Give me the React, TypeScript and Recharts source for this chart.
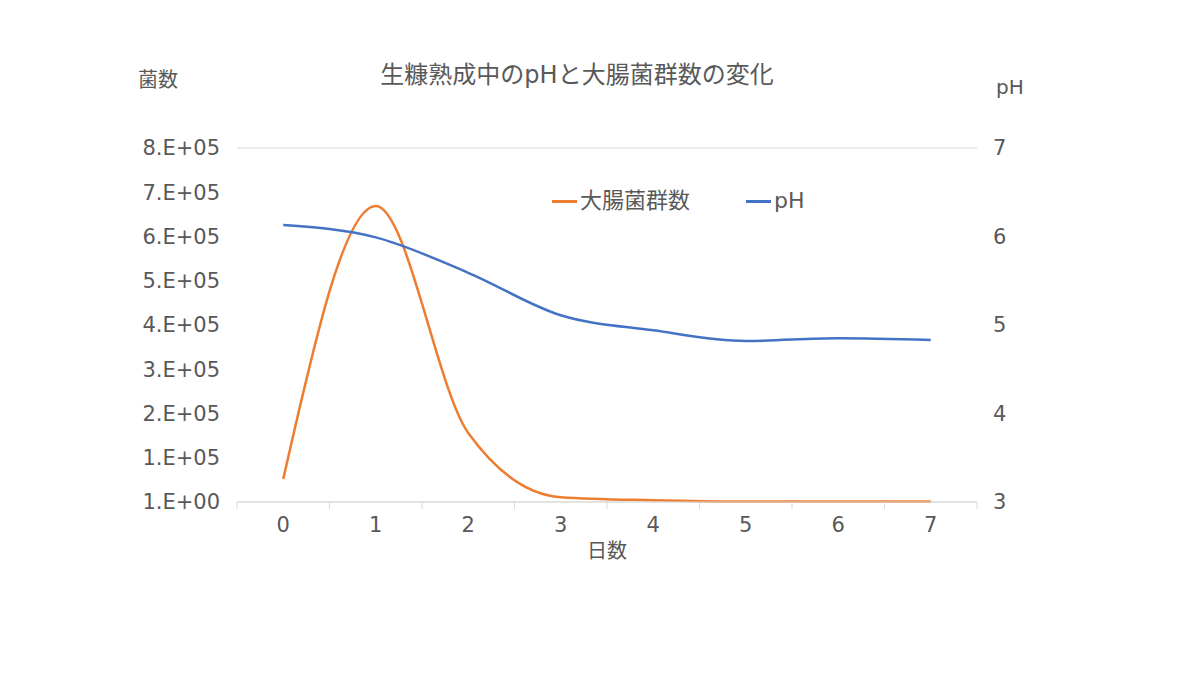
import React from "react";
import { ComposedChart, Line, XAxis, YAxis, CartesianGrid } from "recharts";

const days = ["0", "1", "2", "3", "4", "5", "6", "7"];
const coliform = [52000, 669000, 156000, 11000, 4000, 1000, 1000, 1000];
const ph = [6.13, 5.99, 5.59, 5.11, 4.94, 4.82, 4.85, 4.83];
const countTicks = [0, 100000, 200000, 300000, 400000, 500000, 600000, 700000, 800000];
const phTicks = [3, 4, 5, 6, 7];

const data = days.map((d, i) => ({ day: d, coliform: coliform[i], ph: ph[i] }));

const FONT = '"DejaVu Sans", "Noto Sans CJK JP", sans-serif';
const TEXT = "#595959";
const GRID = "#d9d9d9";

const fmtCount = (v: number) => (v === 0 ? "1.E+00" : `${v / 100000}.E+05`);

// category label plus the short marks on the band edges, like Excel
function DayTick(props: any) {
  const { x, y, payload, index } = props;
  const half = payload.offset || 0;
  const last = index === days.length - 1;
  return (
    <g>
      <line x1={x - half} x2={x - half} y1={y - 8} y2={y - 1} stroke={GRID} />
      {last && <line x1={x + half} x2={x + half} y1={y - 8} y2={y - 1} stroke={GRID} />}
      <text x={x} y={y + 22} textAnchor="middle" fill={TEXT} fontSize={21} fontFamily={FONT}>
        {payload.value}
      </text>
    </g>
  );
}

const legendItems = [
  { name: "大腸菌群数", color: "#ED7D31" },
  { name: "pH", color: "#4472C4" },
];

const label = (extra: React.CSSProperties): React.CSSProperties => ({
  position: "absolute",
  fontFamily: FONT,
  color: TEXT,
  whiteSpace: "nowrap",
  lineHeight: 1,
  ...extra,
});

export default function App() {
  return (
    <div style={{ position: "relative", width: 1184, height: 659, background: "#fff" }}>
      <ComposedChart
        width={1184}
        height={659}
        data={data}
        margin={{ top: 140, right: 155, bottom: 135, left: 139 }}
      >
        <CartesianGrid vertical={false} stroke={GRID} />
        <XAxis
          dataKey="day"
          scale="band"
          stroke={GRID}
          tickLine={false}
          tick={<DayTick />}
          height={30}
          interval={0}
        />
        <YAxis
          yAxisId="count"
          domain={[0, 800000]}
          ticks={countTicks}
          tickFormatter={fmtCount}
          axisLine={false}
          tickLine={false}
          tickSize={0}
          tickMargin={17}
          width={90}
          tick={{ fill: TEXT, fontSize: 21, fontFamily: FONT }}
        />
        <YAxis
          yAxisId="ph"
          orientation="right"
          domain={[3, 7]}
          ticks={phTicks}
          axisLine={false}
          tickLine={false}
          tickSize={0}
          tickMargin={16}
          width={60}
          tick={{ fill: TEXT, fontSize: 21, fontFamily: FONT }}
        />
        <Line
          yAxisId="count"
          type="monotone"
          dataKey="coliform"
          name="大腸菌群数"
          stroke="#ED7D31"
          strokeWidth={2.5}
          dot={false}
          isAnimationActive={false}
        />
        <Line
          yAxisId="ph"
          type="monotone"
          dataKey="ph"
          name="pH"
          stroke="#4472C4"
          strokeWidth={2.5}
          dot={false}
          isAnimationActive={false}
        />
      </ComposedChart>

      <div style={label({ left: 577 - 8, top: 75 - 8, fontSize: 24, transform: "translate(-50%, -50%)" })}>
        生糠熟成中のpHと大腸菌群数の変化
      </div>
      <div style={label({ left: 130, top: 80 - 8, fontSize: 20, transform: "translateY(-50%)" })}>菌数</div>
      <div style={label({ left: 988, top: 87 - 8, fontSize: 20, transform: "translateY(-50%)" })}>pH</div>
      <div style={label({ left: 607 - 8, top: 551 - 8, fontSize: 20, transform: "translate(-50%, -50%)" })}>
        日数
      </div>
      <div
        style={label({
          left: 552 - 8,
          top: 201 - 8,
          transform: "translateY(-50%)",
          display: "flex",
          gap: 56,
          fontSize: 22,
        })}
      >
        {legendItems.map((it) => (
          <div key={it.name} style={{ display: "flex", alignItems: "center" }}>
            <span style={{ width: 25, height: 3, background: it.color, marginRight: 3 }} />
            {it.name}
          </div>
        ))}
      </div>
    </div>
  );
}
